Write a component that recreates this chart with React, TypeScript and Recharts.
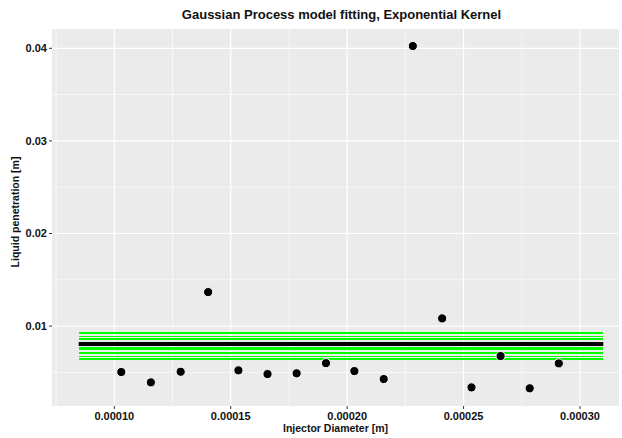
import React from 'react';
import { ScatterChart, Scatter, XAxis, YAxis, CartesianGrid, ReferenceLine } from 'recharts';

// observed points (injector diameter [m], liquid penetration [m])
const diameters = [
  0.000103, 0.0001157, 0.0001285, 0.0001403, 0.0001533, 0.0001658, 0.0001783, 0.0001909,
  0.0002031, 0.0002157, 0.0002282, 0.0002408, 0.0002534, 0.0002659, 0.0002784, 0.0002909,
];
const penetrations = [
  0.00504, 0.00392, 0.00507, 0.01367, 0.00522, 0.00482, 0.0049, 0.006,
  0.00514, 0.00428, 0.04025, 0.01083, 0.00338, 0.00676, 0.00328, 0.00597,
];

// GP prediction: mean and sampled/uncertainty lines
const bandStart = 0.0000847;
const bandEnd = 0.00031;
const meanLevel = 0.00806;
const sampleLevels = [
  0.00936, 0.00915, 0.00893, 0.00871, 0.0085, 0.00774, 0.00763, 0.00753,
  0.00742, 0.0072, 0.00699, 0.00677, 0.00655, 0.00634,
];

const xTicks = [0.0001, 0.00015, 0.0002, 0.00025, 0.0003];
const xMinor = [0.000075, 0.000125, 0.000175, 0.000225, 0.000275];
const yTicks = [0.01, 0.02, 0.03, 0.04];
const yMinor = [0.005, 0.015, 0.025, 0.035];

const points = diameters.map((d, i) => ({ x: d, y: penetrations[i] }));

const font = '"Liberation Sans", Arial, sans-serif';
const tickStyle = { fontSize: 11, fontWeight: 700, fill: '#111', fontFamily: font };

const Dot = (props: any) => {
  const { cx, cy } = props;
  return <circle cx={cx} cy={cy} r={4.6} fill="#000" stroke="#fff" strokeWidth={1} />;
};

export default function App() {
  return (
    <div style={{ position: 'absolute', left: 0, top: 0, width: 622, height: 438, background: '#fff', fontFamily: font }}>
      <div
        style={{
          position: 'absolute', left: 58, width: 567, top: 7, textAlign: 'center',
          fontSize: 13, fontWeight: 700, color: '#111',
        }}
      >
        Gaussian Process model fitting, Exponential Kernel
      </div>
      <ScatterChart width={622} height={438} margin={{ top: 29, right: 3, bottom: 0, left: 0 }}>
        <CartesianGrid
          fill="#EBEBEB"
          stroke="#fff"
          strokeWidth={0.6}
          horizontalValues={yMinor}
          verticalValues={xMinor}
        />
        <CartesianGrid
          stroke="#fff"
          strokeWidth={1.2}
          horizontalValues={yTicks}
          verticalValues={xTicks}
        />
        <XAxis
          type="number"
          dataKey="x"
          domain={[0.00007324, 0.00031675]}
          ticks={xTicks}
          allowDataOverflow
          height={32}
          axisLine={false}
          tickLine={{ stroke: '#333' }}
          tickSize={3}
          tickMargin={3}
          tick={tickStyle}
          tickFormatter={(v: number) => v.toFixed(5)}
        />
        <YAxis
          type="number"
          dataKey="y"
          domain={[0.001371, 0.042084]}
          ticks={yTicks}
          allowDataOverflow
          width={52}
          axisLine={false}
          tickLine={{ stroke: '#333' }}
          tickSize={3}
          tickMargin={2}
          tick={tickStyle}
          tickFormatter={(v: number) => v.toFixed(2)}
        />
        {sampleLevels.map((lv, i) => (
          <ReferenceLine
            key={i}
            segment={[{ x: bandStart, y: lv }, { x: bandEnd, y: lv }]}
            stroke="#00FF00"
            strokeWidth={1}
            shapeRendering="crispEdges"
          />
        ))}
        <ReferenceLine
          segment={[{ x: bandStart, y: meanLevel }, { x: bandEnd, y: meanLevel }]}
          stroke="#000"
          strokeWidth={4}
        />
        <Scatter data={points} shape={<Dot />} isAnimationActive={false} />
      </ScatterChart>
      <div
        style={{
          position: 'absolute', left: 52, width: 567, top: 422, textAlign: 'center',
          fontSize: 10.5, fontWeight: 700, color: '#111',
        }}
      >
        Injector Diameter [m]
      </div>
      <div
        style={{
          position: 'absolute', left: 15, top: 212, width: 0, height: 0,
        }}
      >
        <div
          style={{
            position: 'absolute', transform: 'translate(-50%, -50%) rotate(-90deg)', whiteSpace: 'nowrap',
            fontSize: 10.5, fontWeight: 700, color: '#111',
          }}
        >
          Liquid penetration [m]
        </div>
      </div>
    </div>
  );
}
